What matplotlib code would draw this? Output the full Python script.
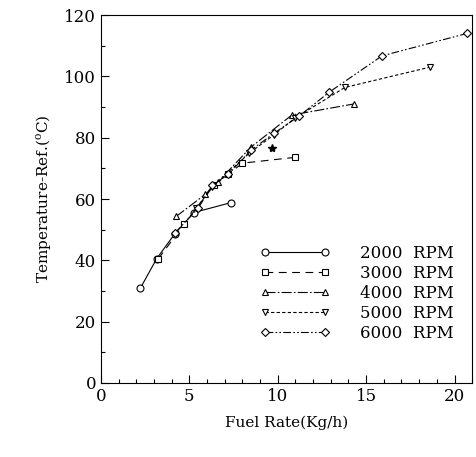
import matplotlib
matplotlib.use("Agg")
import matplotlib.pyplot as plt
from matplotlib.ticker import MultipleLocator

# fuel rate (kg/h) and reference temperature (C) for each engine speed
rpm_labels = ["2000  RPM", "3000  RPM", "4000  RPM", "5000  RPM", "6000  RPM"]

x_2000 = [2.23, 3.15, 4.17, 5.26, 7.34]
y_2000 = [30.9, 40.5, 48.6, 55.6, 58.8]

x_3000 = [3.25, 4.7, 6.4, 7.2, 8.0, 11.0]
y_3000 = [40.5, 51.8, 64.5, 68.0, 71.7, 73.6]

x_4000 = [4.25, 5.9, 6.6, 8.5, 10.8, 14.3]
y_4000 = [54.3, 61.5, 65.5, 77.0, 87.4, 91.0]

x_5000 = [5.4, 6.3, 8.4, 9.8, 11.0, 13.8, 18.6]
y_5000 = [57.0, 64.0, 75.0, 81.0, 86.5, 96.4, 103.0]

x_6000 = [4.2, 5.5, 6.3, 7.2, 8.5, 9.8, 11.2, 12.9, 15.9, 20.7]
y_6000 = [49.0, 57.0, 64.5, 68.0, 76.0, 81.5, 87.0, 94.8, 106.7, 114.0]

star_x = [9.67]
star_y = [76.7]

plt.rcParams['font.family'] = ['DejaVu Serif']

fig = plt.figure(figsize=(4.76, 4.57), dpi=100)
ax = fig.add_axes([0.212, 0.162, 0.78, 0.805])

series = [
    (x_2000, y_2000, 'o', '-'),
    (x_3000, y_3000, 's', (0, (7, 5))),
    (x_4000, y_4000, '^', (0, (9, 2, 1.5, 2))),
    (x_5000, y_5000, 'v', (0, (3, 2))),
    (x_6000, y_6000, 'D', (0, (7, 2, 1.5, 2, 1.5, 2))),
]
for (xs, ys, m, ls), lab in zip(series, rpm_labels):
    ms = 4 if m == 'D' else 5
    ax.plot(xs, ys, marker=m, linestyle=ls, color='black', lw=0.8,
            mfc='white', mec='black', mew=0.8, ms=ms, label=lab)

ax.plot(star_x, star_y, marker='*', color='black', ms=6, linestyle='none')

ax.set_xlim(0, 21)
ax.set_ylim(0, 120)
ax.xaxis.set_major_locator(MultipleLocator(5))
ax.xaxis.set_minor_locator(MultipleLocator(1))
ax.yaxis.set_major_locator(MultipleLocator(20))
ax.yaxis.set_minor_locator(MultipleLocator(10))
ax.tick_params(which='both', direction='in', labelsize=12, width=0.8)
ax.tick_params(which='major', length=6)
ax.tick_params(which='minor', length=3)

ax.set_xlabel('Fuel Rate(Kg/h)', fontsize=11, labelpad=8)
ax.set_ylabel(r'Temperature-Ref.($\mathregular{^{o}}$C)', fontsize=11, labelpad=8)

ax.legend(loc='lower right', bbox_to_anchor=(0.99, 0.07), frameon=False,
          numpoints=2, handlelength=4.2, handletextpad=1.8,
          labelspacing=0.18, fontsize=12)

fig.savefig('out.png', dpi=100)
